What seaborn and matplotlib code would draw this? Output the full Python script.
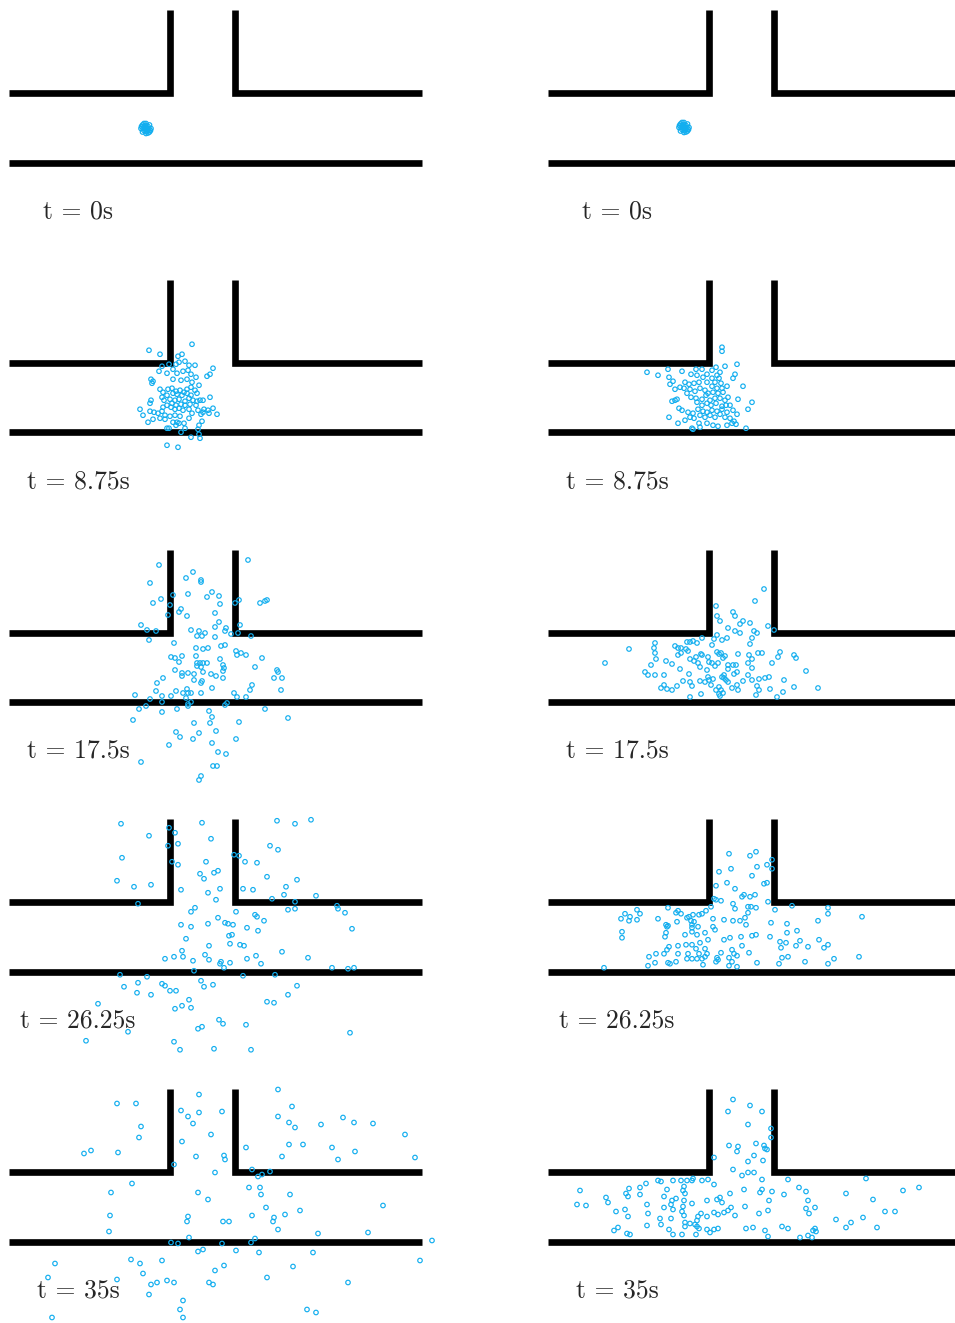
import matplotlib
matplotlib.use("Agg")
import matplotlib.pyplot as plt
import seaborn as sns
import pandas as pd

sns.set_theme(style="white")

# ---------------- data (particle positions, channel units: 1 unit = 1/69.5 channel width) ----
times = ["0", "8.75", "17.5", "26.25", "35"]

# channel geometry
wall_bottom_x = [0, 413]
wall_top_left_x = [0, 161, 161]
wall_top_left_y = [69.5, 69.5, 152.5]
wall_top_right_x = [225.5, 225.5, 413]
wall_top_right_y = [152.5, 69.5, 69.5]

left_t0 = [(137, 34), (134, 34), (140, 34), (137, 31), (137, 37), (135, 32), (139, 32),
           (135, 36), (139, 36), (132, 34), (142, 34), (137, 29), (137, 39), (133.5, 30.5),
           (140.5, 30.5), (133.5, 37.5), (140.5, 37.5), (136, 35), (138, 33), (132.5, 36),
           (141.5, 32), (135, 39), (139, 29.5)]
right_t0 = [(136, 35), (133, 35), (139, 35), (136, 32), (136, 38), (134, 33), (138, 33),
            (134, 37), (138, 37), (131, 35), (141, 35), (136, 30), (136, 40), (132.5, 31.5),
            (139.5, 31.5), (132.5, 38.5), (139.5, 38.5), (135, 36), (137, 34), (131.5, 37),
            (140.5, 33), (134, 40), (138, 30.5)]

left_t1 = [(140, 82), (151, 78), (183, 88), (169, 76), (173, 78), (153, 66), (160, 68), (167, 68),
           (170, 70), (176, 71), (180, 67), (186, 67), (150, 61), (158, 59), (164, 63), (174, 61),
           (179, 62), (182, 58), (168, 59), (142, 53), (144, 51), (143, 49), (164, 53), (172, 52),
           (178, 53), (187, 55), (183, 50), (190, 47), (198, 56), (201, 58), (204, 64), (151, 43),
           (154, 40), (159, 43), (163, 44), (167, 41), (171, 42), (175, 40), (178, 43), (182, 45),
           (186, 42), (182, 37), (178, 39), (173, 37), (168, 38), (164, 39), (158, 37), (153, 35),
           (188, 39), (155, 32), (161, 33), (166, 32), (170, 33), (176, 31), (180, 34), (184, 32),
           (188, 31), (191, 32), (194, 32), (201, 35), (142, 32), (141, 29), (163, 29), (167, 27),
           (172, 28), (176, 27), (181, 28), (187, 27), (158, 27), (154, 25), (162, 25), (166, 23),
           (170, 24), (174, 22), (180, 23), (189, 22), (195, 23), (199, 22), (204, 24), (200, 19),
           (208, 18), (131, 23), (141, 21), (145, 20), (149, 19), (134, 17), (153, 21), (156, 17),
           (161, 16), (166, 17), (171, 16), (183, 19), (192, 18), (194, 20), (144, 13), (151, 14),
           (156, 13), (193, 11), (164, 10), (168, 10), (175, 9), (180, 14), (190, 7), (139, 10),
           (158, 4), (160, 4), (167, 7), (170, 9), (176, 4), (189, 3), (172, 0), (182, -5),
           (190, -2), (191, -6), (158, -13), (169, -15)]

right_t1 = [(174, 85), (174, 81), (99, 60), (110, 57), (120, 63), (134, 61), (143, 58), (148, 63),
            (154, 63), (149, 57), (155, 55), (159, 58), (164, 62), (168, 65), (172, 60), (177, 66),
            (189, 68), (187, 58), (185, 54), (121, 55), (125, 51), (122, 48), (137, 50), (141, 48),
            (146, 49), (151, 50), (159, 50), (164, 54), (169, 57), (171, 54), (173, 49), (167, 50),
            (179, 46), (174, 44), (169, 44), (164, 46), (195, 46), (127, 43), (132, 45), (136, 44),
            (142, 43), (147, 41), (152, 44), (157, 42), (160, 39), (165, 40), (170, 39), (175, 40),
            (180, 35), (190, 33), (204, 30), (200, 23), (124, 31), (127, 32), (129, 33), (139, 39),
            (143, 35), (148, 34), (149, 30), (154, 33), (158, 37), (162, 32), (167, 34), (172, 34),
            (177, 32), (154, 27), (159, 29), (163, 27), (168, 29), (174, 26), (178, 27), (182, 27),
            (131, 24), (134, 22), (140, 20), (145, 19), (150, 23), (155, 21), (159, 20), (164, 22),
            (169, 21), (174, 23), (179, 20), (185, 22), (189, 18), (121, 15), (137, 12), (142, 15),
            (146, 14), (152, 17), (157, 15), (162, 17), (167, 15), (172, 18), (177, 15), (182, 14),
            (186, 11), (130, 9), (144, 4), (145, 3), (151, 9), (152, 5), (159, 9), (165, 7),
            (170, 6), (179, 7), (184, 9), (188, 8), (198, 4)]

left_t2 = [(150, 137), (239, 142), (141, 119), (177, 124), (184, 130), (192, 122), (192, 120),
           (179, 108), (203, 110), (210, 106), (198, 105), (164, 107), (152, 103), (144, 99),
           (161, 97), (211, 98), (226, 99), (230, 102), (251, 99), (256, 101), (258, 102),
           (172, 93), (170, 90), (178, 86), (159, 87), (206, 89), (210, 80), (206, 75), (217, 74),
           (216, 71), (231, 77), (132, 77), (138, 72), (147, 71), (140, 62), (182, 72), (190, 71),
           (196, 69), (193, 66), (188, 66), (206, 65), (222, 68), (229, 69), (242, 66), (165, 59),
           (187, 54), (194, 53), (199, 54), (212, 56), (216, 57), (227, 51), (232, 49), (228, 47),
           (237, 47), (253, 44), (162, 45), (166, 44), (173, 46), (170, 40), (187, 46), (188, 39),
           (191, 39), (194, 39), (198, 39), (192, 35), (188, 36), (211, 43), (214, 37), (215, 34),
           (214, 31), (246, 35), (166, 32), (173, 29), (179, 29), (185, 28), (194, 30), (202, 28),
           (207, 26), (214, 24), (268, 32), (269, 30), (265, 24), (273, 24), (154, 24), (148, 19),
           (173, 26), (193, 21), (185, 22), (192, 19), (203, 14), (243, 17), (241, 12), (272, 12),
           (126, 7), (141, 3), (147, 11), (153, 6), (162, 6), (167, 11), (174, 9), (178, 13),
           (179, 9), (182, 9), (192, 9), (177, 4), (182, 0), (179, -2), (179, -4), (153, 0),
           (137, -4), (130, -7), (124, -18), (153, -10), (168, -7), (225, 9), (228, 5), (237, 5),
           (218, -1), (216, -3), (256, -7), (279, -16), (200, -9), (203, -15), (201, -21),
           (185, -21), (230, -20), (207, -29), (167, -30), (171, -35), (190, -31), (184, -37),
           (227, -37), (203, -41), (160, -43), (209, -50), (217, -52), (132, -60), (204, -64),
           (208, -64), (192, -74), (190, -78)]

right_t2 = [(216, 113), (207, 101), (168, 96), (169, 86), (172, 81), (185, 90), (187, 86), (195, 81),
            (192, 78), (202, 79), (180, 74), (187, 71), (206, 71), (209, 69), (220, 76), (226, 72),
            (169, 67), (166, 63), (164, 57), (174, 62), (179, 64), (192, 69), (204, 64), (202, 58),
            (81, 53), (57, 39), (107, 59), (106, 54), (107, 49), (108, 43), (97, 30), (100, 27),
            (103, 37), (107, 27), (116, 27), (118, 41), (124, 38), (127, 56), (130, 54), (133, 54),
            (130, 47), (133, 49), (138, 53), (140, 51), (139, 60), (142, 60), (145, 61), (149, 59),
            (154, 64), (142, 43), (146, 41), (148, 45), (150, 39), (152, 35), (153, 48), (154, 47),
            (160, 45), (161, 40), (164, 39), (169, 50), (171, 48), (173, 49), (177, 46), (175, 44),
            (170, 39), (167, 36), (180, 37), (185, 37), (188, 37), (190, 48), (201, 47), (204, 43),
            (210, 49), (214, 49), (200, 39), (204, 34), (224, 39), (232, 50), (230, 45), (246, 47),
            (248, 44), (258, 31), (270, 14), (113, 14), (116, 17), (119, 13), (124, 12), (129, 16),
            (135, 21), (132, 33), (141, 28), (142, 20), (144, 16), (142, 5), (152, 21), (153, 8),
            (157, 20), (159, 32), (160, 25), (161, 22), (165, 23), (163, 17), (168, 12), (171, 15),
            (173, 12), (171, 8), (175, 9), (174, 25), (176, 24), (178, 22), (180, 20), (176, 27),
            (180, 33), (186, 28), (189, 30), (189, 17), (184, 14), (190, 12), (195, 21), (200, 27),
            (204, 22), (209, 16), (211, 12), (211, 23), (217, 24), (221, 25), (222, 13), (208, 7),
            (236, 22), (235, 10), (246, 15), (229, 5), (172, 6)]

left_t3 = [(112, 148), (140, 136), (113, 114), (108, 91), (125, 85), (142, 87), (129, 68), (160, 144),
           (166, 139), (169, 128), (159, 126), (163, 110), (169, 107), (172, 82), (193, 149),
           (202, 133), (197, 110), (191, 98), (195, 93), (205, 99), (209, 101), (211, 83), (199, 79),
           (207, 72), (225, 117), (230, 116), (236, 110), (248, 109), (258, 95), (234, 83), (244, 82),
           (261, 126), (269, 122), (268, 151), (286, 148), (302, 152), (288, 92), (277, 85),
           (275, 77), (263, 73), (286, 70), (286, 63), (279, 62), (307, 76), (328, 66), (329, 63),
           (336, 59), (343, 43), (186, 64), (182, 60), (172, 47), (182, 45), (199, 48), (209, 54),
           (216, 49), (219, 48), (224, 47), (227, 60), (238, 44), (246, 57), (248, 55), (255, 51),
           (249, 41), (177, 33), (220, 36), (223, 37), (200, 26), (221, 28), (231, 27), (235, 26),
           (173, 21), (165, 15), (174, 15), (156, 13), (184, 11), (196, 17), (200, 12), (211, 8),
           (212, 10), (215, 4), (221, 9), (238, 13), (247, 16), (252, 8), (273, 20), (299, 14),
           (323, 4), (339, 3), (345, 4), (185, 1), (111, -3), (138, -5), (115, -15), (129, -11),
           (128, -21), (142, -23), (153, -12), (156, -14), (161, -19), (167, -19), (192, -9),
           (195, -15), (204, -13), (234, -4), (266, -3), (288, -14), (279, -23), (258, -30),
           (265, -31), (180, -28), (173, -34), (182, -36), (166, -37), (89, -32), (119, -60),
           (77, -69), (165, -70), (171, -78), (205, -77), (242, -78), (210, -48), (214, -52),
           (189, -57), (193, -55), (237, -53), (341, -61)]

right_t3 = [(181, 118), (202, 116), (208, 120), (209, 105), (204, 96), (183, 103), (171, 100),
            (179, 89), (168, 86), (187, 83), (219, 107), (224, 112), (224, 103), (216, 88), (219, 89),
            (166, 73), (168, 72), (173, 71), (185, 68), (187, 63), (194, 75), (196, 77), (202, 75),
            (207, 77), (200, 65), (203, 65), (208, 64), (220, 70), (227, 62), (244, 66), (280, 64),
            (280, 58), (314, 55), (270, 51), (77, 58), (82, 55), (89, 62), (92, 58), (73, 53),
            (81, 51), (89, 52), (74, 40), (74, 34), (110, 53), (120, 64), (128, 59), (130, 61),
            (133, 58), (139, 54), (141, 55), (145, 57), (151, 57), (154, 58), (158, 61), (163, 65),
            (129, 50), (118, 47), (120, 46), (119, 45), (143, 51), (146, 50), (144, 47), (144, 44),
            (150, 45), (165, 53), (165, 45), (167, 42), (176, 52), (185, 51), (192, 51), (197, 54),
            (200, 59), (198, 47), (223, 49), (239, 48), (118, 39), (117, 35), (137, 37), (144, 40),
            (149, 37), (157, 39), (160, 32), (152, 29), (176, 32), (182, 34), (193, 35), (204, 36),
            (208, 37), (222, 35), (232, 30), (239, 39), (238, 29), (249, 41), (252, 31), (248, 26),
            (260, 25), (271, 32), (280, 27), (276, 24), (233, 24), (121, 25), (119, 22), (130, 26),
            (138, 27), (144, 27), (148, 23), (151, 18), (157, 23), (159, 18), (157, 15), (140, 18),
            (130, 18), (116, 18), (108, 18), (101, 15), (107, 9), (100, 6), (120, 9), (122, 8),
            (128, 10), (139, 13), (144, 13), (149, 13), (154, 13), (155, 7), (169, 14), (170, 12),
            (168, 10), (173, 19), (184, 22), (186, 18), (189, 16), (181, 14), (184, 10), (181, 6),
            (189, 5), (201, 19), (194, 26), (209, 9), (231, 8), (234, 14), (240, 15), (257, 10),
            (280, 8), (286, 13), (311, 15), (56, 4)]

left_t4 = [(108, 138), (127, 138), (132, 115), (130, 104), (75, 88), (82, 91), (109, 89), (172, 131),
           (179, 125), (190, 129), (190, 147), (184, 118), (213, 130), (202, 107), (173, 100),
           (187, 85), (215, 86), (216, 82), (165, 77), (206, 69), (237, 94), (269, 152), (283, 135),
           (269, 125), (280, 119), (286, 114), (312, 117), (334, 124), (345, 119), (364, 118),
           (396, 107), (406, 84), (280, 97), (294, 97), (273, 85), (323, 94), (329, 82), (346, 90),
           (243, 72), (261, 70), (253, 67), (249, 65), (240, 54), (251, 54), (252, 47), (281, 47),
           (257, 34), (243, 26), (265, 24), (264, 20), (276, 27), (291, 31), (269, 12), (309, 8),
           (359, 9), (374, 36), (189, 49), (199, 42), (179, 25), (178, 20), (214, 20), (220, 20),
           (180, 4), (102, 49), (123, 58), (101, 26), (100, 10), (162, -1), (169, -2), (213, -2),
           (242, -1), (246, 3), (423, 1), (189, -10), (194, -8), (227, -9), (250, -11), (304, -11),
           (411, -19), (122, -18), (131, -22), (134, -32), (153, -19), (46, -22), (39, -36),
           (108, -38), (142, -43), (148, -41), (158, -39), (165, -41), (140, -53), (206, -29),
           (215, -24), (200, -41), (204, -43), (258, -36), (284, -25), (339, -41), (174, -59),
           (171, -68), (174, -76), (43, -76), (298, -68), (307, -71)]

right_t4 = [(185, 142), (202, 136), (180, 130), (214, 130), (200, 117), (223, 113), (223, 104),
            (181, 96), (190, 95), (189, 90), (208, 98), (216, 96), (217, 93), (219, 92), (206, 86),
            (200, 80), (215, 81), (166, 84), (185, 72), (194, 66), (200, 69), (206, 69), (214, 62),
            (240, 62), (318, 63), (355, 51), (371, 54), (298, 48), (325, 42), (337, 30), (347, 30),
            (315, 24), (303, 19), (298, 14), (288, 22), (329, 14), (32, 51), (29, 37), (38, 36),
            (58, 44), (60, 39), (68, 30), (81, 53), (78, 48), (80, 45), (77, 32), (80, 25), (92, 54),
            (92, 47), (98, 58), (99, 37), (100, 28), (99, 16), (66, 11), (70, 14), (79, 8), (82, 7),
            (110, 61), (113, 60), (125, 61), (133, 61), (139, 61), (144, 61), (145, 63), (154, 61),
            (160, 62), (166, 57), (119, 52), (116, 45), (124, 41), (128, 43), (123, 37), (125, 32),
            (116, 34), (112, 23), (113, 17), (123, 23), (121, 12), (125, 7), (134, 7), (136, 55),
            (135, 51), (137, 48), (136, 41), (135, 35), (134, 30), (136, 26), (144, 38), (137, 19),
            (137, 15), (142, 18), (147, 17), (149, 21), (149, 15), (150, 25), (153, 28), (159, 25),
            (159, 41), (169, 42), (172, 44), (174, 39), (166, 29), (170, 27), (176, 29), (180, 31),
            (183, 34), (187, 26), (151, 13), (148, 7), (159, 12), (162, 9), (166, 12), (170, 13),
            (182, 48), (196, 52), (197, 35), (212, 49), (214, 52), (224, 50), (221, 41), (220, 31),
            (211, 28), (236, 47), (251, 54), (258, 50), (260, 41), (258, 33), (261, 28), (267, 34),
            (198, 13), (205, 14), (217, 11), (220, 5), (234, 15), (240, 13), (252, 4), (260, 6),
            (264, 4), (265, 11), (267, 13), (268, 10)]

left_panels = [left_t0, left_t1, left_t2, left_t3, left_t4]
right_panels = [right_t0, right_t1, right_t2, right_t3, right_t4]

# ---------------- layout ----------------
W, H = 955, 1323
COL_X0 = [9, 548]
ROW_Y0 = 162.5
ROW_STEP = 269.75
POINT_COLOR = "#12AEEF"

fig = plt.figure(figsize=(W / 100, H / 100), dpi=100)
fig.patch.set_facecolor("white")


def draw_panel(points, t, x0, ybot):
    ax = fig.add_axes([(x0 - 20) / W, 1 - (ybot + 110) / H, 460 / W, 290 / H])
    ax.set_xlim(-20, 440)
    ax.set_ylim(-110, 180)
    ax.axis("off")
    kw = dict(color="black", lw=4.8, solid_capstyle="butt", solid_joinstyle="miter", clip_on=False)
    ax.plot(wall_bottom_x, [0, 0], **kw)
    ax.plot(wall_top_left_x, wall_top_left_y, **kw)
    ax.plot(wall_top_right_x, wall_top_right_y, **kw)
    df = pd.DataFrame(points, columns=["x", "y"])
    sns.scatterplot(data=df, x="x", y="y", ax=ax, marker="o", s=10.5, color="none",
                    edgecolor=POINT_COLOR, linewidth=0.85, clip_on=False, legend=False, zorder=3)
    ax.text(69, -56, f"t = {t}s", ha="center", va="baseline", fontsize=18.5,
            family=["cmr10", "DejaVu Serif"])


for r in range(5):
    ybot = ROW_Y0 + ROW_STEP * r
    draw_panel(left_panels[r], times[r], COL_X0[0], ybot)
    draw_panel(right_panels[r], times[r], COL_X0[1], ybot)

fig.savefig("out.png", dpi=100, facecolor="white")
